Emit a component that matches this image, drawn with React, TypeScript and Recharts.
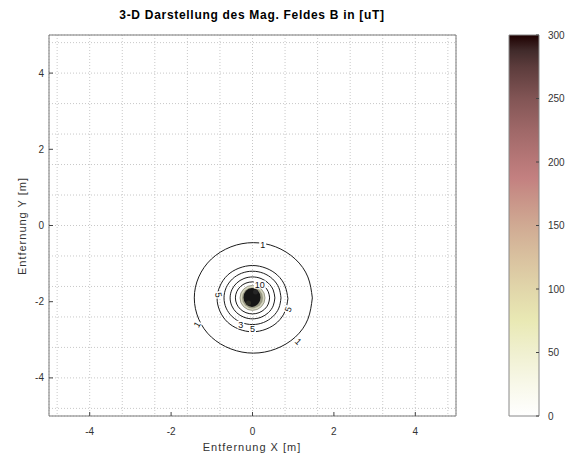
import React from 'react';
import { ComposedChart, BarChart, Bar, Line, Scatter, XAxis, YAxis, CartesianGrid } from 'recharts';

// ---------- data ----------
const axisDomain = [-5, 5];
const xTicks = [-4, -2, 0, 2, 4];
const yTicks = [-4, -2, 0, 2, 4];
const gridTicks = [-4.8, -4.4, -4, -3.6, -3.2, -2.8, -2.4, -2, -1.6, -1.2, -0.8, -0.4, 0, 0.4, 0.8, 1.2, 1.6, 2, 2.4, 2.8, 3.2, 3.6, 4, 4.4, 4.8];

// contour lines (level 1 outermost)
const contourLevel1 = [
  { x: 1.47, y: -1.9 }, { x: 1.36, y: -1.35 }, { x: 1.05, y: -0.88 }, { x: 0.57, y: -0.56 },
  { x: 0.02, y: -0.45 }, { x: -0.53, y: -0.56 }, { x: -1.01, y: -0.88 }, { x: -1.32, y: -1.35 },
  { x: -1.43, y: -1.9 }, { x: -1.32, y: -2.46 }, { x: -1.01, y: -2.93 }, { x: -0.53, y: -3.24 },
  { x: 0.02, y: -3.35 }, { x: 0.57, y: -3.24 }, { x: 1.05, y: -2.93 }, { x: 1.36, y: -2.46 },
  { x: 1.47, y: -1.9 },
];
const contourLevel2 = [
  { x: 0.87, y: -1.92 }, { x: 0.8, y: -1.59 }, { x: 0.615, y: -1.305 }, { x: 0.333, y: -1.12 },
  { x: 0, y: -1.05 }, { x: -0.333, y: -1.12 }, { x: -0.615, y: -1.305 }, { x: -0.8, y: -1.59 },
  { x: -0.87, y: -1.92 }, { x: -0.8, y: -2.25 }, { x: -0.615, y: -2.535 }, { x: -0.333, y: -2.72 },
  { x: 0, y: -2.79 }, { x: 0.333, y: -2.72 }, { x: 0.615, y: -2.535 }, { x: 0.8, y: -2.25 },
  { x: 0.87, y: -1.92 },
];
const contourLevel3 = [
  { x: 0.7, y: -1.9 }, { x: 0.647, y: -1.632 }, { x: 0.495, y: -1.405 }, { x: 0.268, y: -1.253 },
  { x: 0, y: -1.2 }, { x: -0.268, y: -1.253 }, { x: -0.495, y: -1.405 }, { x: -0.647, y: -1.632 },
  { x: -0.7, y: -1.9 }, { x: -0.647, y: -2.168 }, { x: -0.495, y: -2.395 }, { x: -0.268, y: -2.547 },
  { x: 0, y: -2.6 }, { x: 0.268, y: -2.547 }, { x: 0.495, y: -2.395 }, { x: 0.647, y: -2.168 },
  { x: 0.7, y: -1.9 },
];
const contourLevel4 = [
  { x: 0.55, y: -1.9 }, { x: 0.508, y: -1.69 }, { x: 0.389, y: -1.511 }, { x: 0.21, y: -1.392 },
  { x: 0, y: -1.35 }, { x: -0.21, y: -1.392 }, { x: -0.389, y: -1.511 }, { x: -0.508, y: -1.69 },
  { x: -0.55, y: -1.9 }, { x: -0.508, y: -2.11 }, { x: -0.389, y: -2.289 }, { x: -0.21, y: -2.408 },
  { x: 0, y: -2.45 }, { x: 0.21, y: -2.408 }, { x: 0.389, y: -2.289 }, { x: 0.508, y: -2.11 },
  { x: 0.55, y: -1.9 },
];
const contourLevel5 = [
  { x: 0.42, y: -1.9 }, { x: 0.388, y: -1.739 }, { x: 0.297, y: -1.603 }, { x: 0.161, y: -1.512 },
  { x: 0, y: -1.48 }, { x: -0.161, y: -1.512 }, { x: -0.297, y: -1.603 }, { x: -0.388, y: -1.739 },
  { x: -0.42, y: -1.9 }, { x: -0.388, y: -2.061 }, { x: -0.297, y: -2.197 }, { x: -0.161, y: -2.288 },
  { x: 0, y: -2.32 }, { x: 0.161, y: -2.288 }, { x: 0.297, y: -2.197 }, { x: 0.388, y: -2.061 },
  { x: 0.42, y: -1.9 },
];
const contours = [contourLevel1, contourLevel2, contourLevel3, contourLevel4, contourLevel5];

const sourceCenter = [{ x: 0, y: -1.9 }];

const contourLabels = [
  { x: 0.25, y: -0.52, t: '1' },
  { x: -1.36, y: -2.6, t: '1' },
  { x: 1.12, y: -3.05, t: '1' },
  { x: -0.84, y: -1.82, t: '5' },
  { x: 0.88, y: -2.2, t: '5' },
  { x: -0.29, y: -2.6, t: '3' },
  { x: 0.0, y: -2.72, t: '5' },
  { x: 0.18, y: -1.55, t: '10' },
];
const labelAngles = [0, -60, 45, 80, -70, 0, 0, 0];

const colorbarTicks = [0, 50, 100, 150, 200, 250, 300];
const colorbarDomain = [0, 300];
const colorbarData = [{ name: 'B', value: 300 }];

// ---------- styles ----------
const FONT = 'Liberation Sans, Arial, sans-serif';
const frame = '#7a7a7a';
const tickStyle = { fill: '#333', fontSize: 10, fontFamily: FONT };
const gradientStops = [
  { o: 0, c: '#1e0000' },
  { o: 0.0417, c: '#412b2b' },
  { o: 0.0833, c: '#5c3c3c' },
  { o: 0.1667, c: '#825555' },
  { o: 0.25, c: '#9f6868' },
  { o: 0.3333, c: '#b87878' },
  { o: 0.375, c: '#c38080' },
  { o: 0.4167, c: '#c78f86' },
  { o: 0.5, c: '#d0aa93' },
  { o: 0.5833, c: '#d9c19f' },
  { o: 0.6667, c: '#e1d6aa' },
  { o: 0.75, c: '#e9e9b4' },
  { o: 0.8333, c: '#f0f0d0' },
  { o: 0.9167, c: '#f8f8e9' },
  { o: 1, c: '#ffffff' },
];

const renderSource = (props: any) => {
  const { cx, cy } = props;
  if (cx == null || cy == null) return <g />;
  return (
    <g>
      <circle cx={cx} cy={cy} r={12.5} fill="#d6d6c0" stroke="#8a8a78" strokeWidth={0.8} />
      <circle cx={cx} cy={cy} r={10.5} fill="#9a9a84" />
      <ellipse cx={cx - 0.5} cy={cy - 0.5} rx={8.5} ry={9.5} fill="#161616" />
      <circle cx={cx + 3} cy={cy - 6} r={2.5} fill="#262626" />
      <circle cx={cx - 4} cy={cy + 5} r={2.5} fill="#2c2c24" />
    </g>
  );
};

const renderLabel = (props: any) => {
  const { cx, cy, payload, index } = props;
  if (cx == null || cy == null) return <g />;
  const ang = labelAngles[index] || 0;
  const w = payload.t.length * 5 + 2;
  return (
    <g transform={`rotate(${ang} ${cx} ${cy})`}>
      <rect x={cx - w / 2} y={cy - 4} width={w} height={8} fill="#fff" />
      <text
        x={cx}
        y={cy}
        fontSize={9}
        fontFamily={FONT}
        fill="#111"
        textAnchor="middle"
        dominantBaseline="central"
      >
        {payload.t}
      </text>
    </g>
  );
};

export default function App() {
  return (
    <div style={{ position: 'absolute', left: 0, top: 0, width: 566, height: 457, background: '#fff' }}>
      <div
        style={{
          position: 'absolute', left: 0, top: 8, width: 504, textAlign: 'center',
          fontFamily: FONT, fontWeight: 'bold', fontSize: 12, color: '#000', letterSpacing: 0.7, whiteSpace: 'nowrap',
        }}
      >
        3-D Darstellung des Mag. Feldes B in [uT]
      </div>
      <div
        style={{
          position: 'absolute', left: 0, top: 441, width: 504, textAlign: 'center',
          fontFamily: FONT, fontSize: 11, color: '#333', letterSpacing: 1.0, whiteSpace: 'nowrap',
        }}
      >
        Entfernung X [m]
      </div>
      <div
        style={{
          position: 'absolute', left: 22 - 70, top: 226 - 7, width: 140, height: 14, lineHeight: '14px',
          textAlign: 'center', fontFamily: FONT, fontSize: 11, color: '#333', letterSpacing: 1.0,
          whiteSpace: 'nowrap', transform: 'rotate(-90deg)',
        }}
      >
        Entfernung Y [m]
      </div>

      <div style={{ position: 'absolute', left: 0, top: 0 }}>
        <ComposedChart width={470} height={457} margin={{ top: 34, right: 13, bottom: 11, left: 19 }}>
          <XAxis xAxisId="grid" type="number" dataKey="x" domain={axisDomain} ticks={gridTicks} hide allowDataOverflow />
          <YAxis yAxisId="grid" type="number" dataKey="y" domain={axisDomain} ticks={gridTicks} hide allowDataOverflow />
          <CartesianGrid xAxisId="grid" yAxisId="grid" stroke="#c8c8c8" strokeDasharray="1 2" />
          {contours.map((ring, i) => (
            <Line
              key={i}
              data={ring}
              dataKey="y"
              type="natural"
              stroke="#1c1c1c"
              strokeWidth={1}
              dot={false}
              activeDot={false}
              isAnimationActive={false}
            />
          ))}
          <Scatter data={sourceCenter} shape={renderSource} isAnimationActive={false} />
          <Scatter data={contourLabels} shape={renderLabel} isAnimationActive={false} />
          <XAxis
            type="number" dataKey="x" domain={axisDomain} ticks={xTicks} allowDataOverflow
            height={30} tickSize={-4} tickMargin={16} tick={tickStyle}
            axisLine={{ stroke: frame }} tickLine={{ stroke: '#444' }}
          />
          <XAxis
            xAxisId="top" orientation="top" type="number" dataKey="x" domain={axisDomain} ticks={xTicks}
            allowDataOverflow height={1} tickSize={-4} tick={false}
            axisLine={{ stroke: frame }} tickLine={{ stroke: '#444' }}
          />
          <YAxis
            type="number" dataKey="y" domain={axisDomain} ticks={yTicks} allowDataOverflow
            width={30} tickSize={-4} tickMargin={9} tick={tickStyle}
            axisLine={{ stroke: frame }} tickLine={{ stroke: '#444' }}
          />
          <YAxis
            yAxisId="right" orientation="right" type="number" dataKey="y" domain={axisDomain} ticks={yTicks}
            allowDataOverflow width={1} tickSize={-4} tick={false}
            axisLine={{ stroke: frame }} tickLine={{ stroke: '#444' }}
          />
        </ComposedChart>
      </div>

      <div style={{ position: 'absolute', left: 470, top: 0 }}>
        <BarChart
          width={96}
          height={457}
          data={colorbarData}
          margin={{ top: 35, right: 7, bottom: 41, left: 38 }}
          barCategoryGap={0}
        >
          <defs>
            <linearGradient id="cbGradient" x1="0" y1="0" x2="0" y2="1">
              {gradientStops.map((s) => (
                <stop key={s.o} offset={s.o} stopColor={s.c} />
              ))}
            </linearGradient>
          </defs>
          <Bar dataKey="value" fill="url(#cbGradient)" stroke="#888" strokeWidth={1} isAnimationActive={false} />
          <XAxis dataKey="name" hide />
          <YAxis
            orientation="right" type="number" domain={colorbarDomain} ticks={colorbarTicks}
            width={20} tickSize={-3} tickMargin={12} tick={{ ...tickStyle, textAnchor: 'start' }}
            axisLine={false} tickLine={{ stroke: '#444' }}
          />
          <YAxis
            yAxisId="l" orientation="left" type="number" domain={colorbarDomain} ticks={colorbarTicks}
            width={1} tickSize={-3} tick={false} axisLine={false} tickLine={{ stroke: '#444' }}
          />
        </BarChart>
      </div>
    </div>
  );
}
